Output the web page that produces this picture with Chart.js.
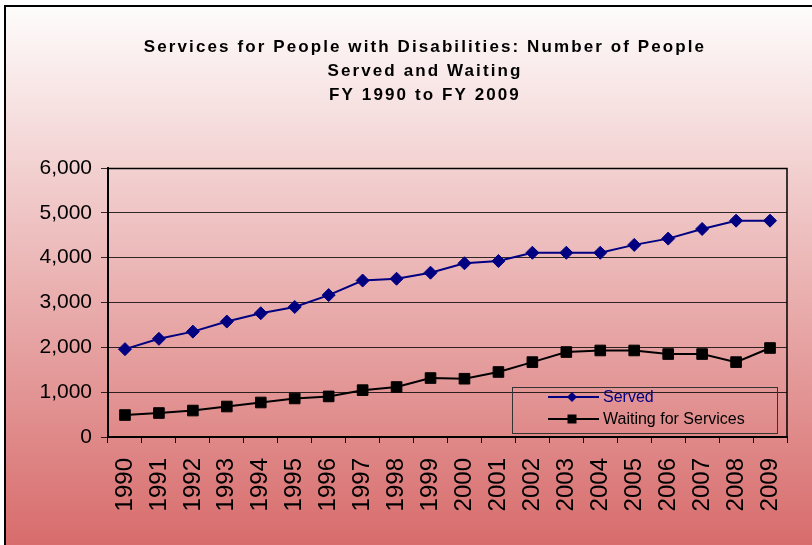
<!DOCTYPE html>
<html><head><meta charset="utf-8">
<script src="https://cdn.jsdelivr.net/npm/chart.js@4.4.0/dist/chart.umd.min.js"></script>
<style>html,body{margin:0;padding:0;background:#fff;overflow:hidden}#wrap{width:812px;height:545px;position:relative}</style>
</head><body><div id="wrap"><canvas id="c" width="812" height="545"></canvas></div>
<script>
const TITLE_LINES = ['Services for People with Disabilities: Number of People', 'Served and Waiting', 'FY 1990 to FY 2009'];
const YEARS = ['1990','1991','1992','1993','1994','1995','1996','1997','1998','1999','2000','2001','2002','2003','2004','2005','2006','2007','2008','2009'];
const SERVED = [1960, 2190, 2350, 2575, 2760, 2900, 3165, 3490, 3530, 3665, 3875, 3925, 4110, 4110, 4110, 4285, 4425, 4640, 4825, 4825];
const WAITING = [490, 535, 590, 680, 770, 860, 905, 1045, 1115, 1315, 1300, 1450, 1670, 1895, 1930, 1930, 1850, 1850, 1670, 1985];
const SERIES_NAMES = ['Served', 'Waiting for Services'];
const Y_MIN = 0, Y_MAX = 6000, Y_STEP = 1000;

const bgPlugin = {
  id: 'bg',
  beforeDraw(chart) {
    const ctx = chart.ctx, w = chart.width, h = chart.height;
    ctx.save();
    ctx.fillStyle = '#ffffff';
    ctx.fillRect(0, 0, w, h);
    const g = ctx.createLinearGradient(0, 6, 0, h);
    g.addColorStop(0, '#fefcfc');
    g.addColorStop(1, '#d86c6c');
    ctx.fillStyle = g;
    ctx.fillRect(5, 6, w - 5, h - 6);
    ctx.strokeStyle = '#000';
    ctx.lineWidth = 2;
    ctx.beginPath();
    ctx.moveTo(5, h); ctx.lineTo(5, 6); ctx.lineTo(w, 6);
    ctx.stroke();
    ctx.restore();
  }
};

const titlePlugin = {
  id: 'titleLines',
  afterDraw(chart) {
    const ctx = chart.ctx;
    ctx.save();
    ctx.font = 'bold 17px "Liberation Sans", Arial, sans-serif';
    ctx.letterSpacing = '2.1px';
    ctx.fillStyle = '#000';
    ctx.textAlign = 'center';
    ctx.textBaseline = 'middle';
    TITLE_LINES.forEach((t, i) => ctx.fillText(t, 425, 47 + i * 24));
    ctx.restore();
  }
};

const framePlugin = {
  id: 'frame',
  beforeDatasetsDraw(chart) {
    const a = chart.chartArea, ctx = chart.ctx;
    ctx.save();
    ctx.strokeStyle = '#000';
    ctx.lineWidth = 1.5;
    ctx.beginPath();
    ctx.moveTo(a.left, a.top + 0.5); ctx.lineTo(a.right, a.top + 0.5); ctx.lineTo(a.right, a.bottom);
    ctx.stroke();
    ctx.restore();
  }
};

const legendPlugin = {
  id: 'boxLegend',
  afterDatasetsDraw(chart) {
    const a = chart.chartArea, ctx = chart.ctx;
    const right = a.right - 10, bottom = a.bottom - 4, w = 265, h = 46;
    const left = right - w, top = bottom - h;
    ctx.save();
    ctx.strokeStyle = '#333';
    ctx.lineWidth = 1;
    ctx.strokeRect(Math.round(left) + 0.5, Math.round(top) + 0.5, w, h);
    ctx.font = '16px "Liberation Sans", Arial, sans-serif';
    ctx.textBaseline = 'middle';
    chart.data.datasets.forEach((ds, i) => {
      const y = top + 10 + i * 22;
      ctx.strokeStyle = ds.borderColor;
      ctx.lineWidth = 2;
      ctx.beginPath(); ctx.moveTo(left + 36, y); ctx.lineTo(left + 87, y); ctx.stroke();
      ctx.fillStyle = ds.pointBackgroundColor;
      ctx.beginPath();
      if (ds.pointStyle === 'rectRot') {
        ctx.moveTo(left + 60, y - 5); ctx.lineTo(left + 65, y); ctx.lineTo(left + 60, y + 5); ctx.lineTo(left + 55, y);
      } else {
        ctx.rect(left + 55.5, y - 4.5, 9, 9);
      }
      ctx.fill();
      ctx.fillStyle = ds.legendTextColor;
      ctx.fillText(ds.label, left + 91, y + 1);
    });
    ctx.restore();
  }
};

new Chart(document.getElementById('c'), {
  type: 'line',
  data: {
    labels: YEARS,
    datasets: [
      { label: SERIES_NAMES[0], data: SERVED, borderColor: '#000080', backgroundColor: '#000080',
        pointBackgroundColor: '#000080', pointBorderColor: '#000080', pointStyle: 'rectRot',
        pointRadius: 6.5, pointBorderWidth: 1, borderWidth: 2, tension: 0, legendTextColor: '#000080' },
      { label: SERIES_NAMES[1], data: WAITING, borderColor: '#000000', backgroundColor: '#000000',
        pointBackgroundColor: '#000000', pointBorderColor: '#000000', pointStyle: 'rect',
        pointRadius: 7.5, pointBorderWidth: 1, borderWidth: 2, tension: 0, legendTextColor: '#000000' }
    ]
  },
  options: {
    responsive: false,
    devicePixelRatio: 1,
    animation: false,
    events: [],
    layout: { padding: { top: 168, left: 0, right: 25, bottom: 0 } },
    plugins: { legend: { display: false }, title: { display: false }, tooltip: { enabled: false } },
    scales: {
      x: {
        offset: true,
        grid: { offset: true, drawOnChartArea: false, drawTicks: true, tickLength: 6, color: '#000', lineWidth: 1 },
        border: { color: '#000', width: 2 },
        ticks: { minRotation: 90, maxRotation: 90, autoSkip: false, padding: 15, color: '#000',
          font: { family: '"Liberation Sans", Arial, sans-serif', size: 24 } },
        afterFit(s) { s.height = 108; s.paddingRight = 0; s.paddingLeft = 0; }
      },
      y: {
        min: Y_MIN, max: Y_MAX,
        grid: { color: 'rgba(0,0,0,0.8)', lineWidth: 1, drawTicks: true, tickLength: 7 },
        border: { color: '#000', width: 2 },
        ticks: { stepSize: Y_STEP, padding: 9, color: '#000',
          font: { family: '"Liberation Sans", Arial, sans-serif', size: 21 },
          callback: v => v.toLocaleString('en-US') },
        afterFit(s) { s.width = 108; }
      }
    }
  },
  plugins: [bgPlugin, framePlugin, legendPlugin, titlePlugin]
});
</script></body></html>
